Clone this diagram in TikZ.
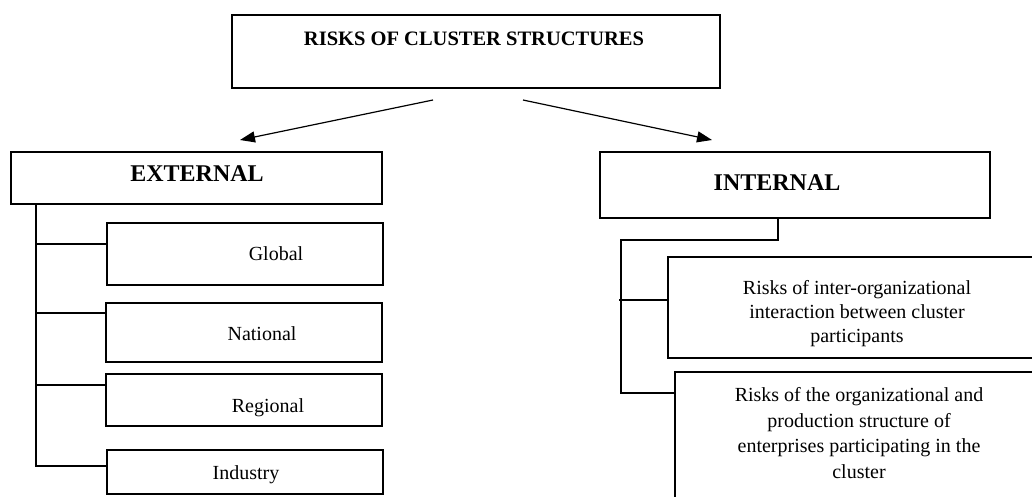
\documentclass[tikz,border=0pt]{standalone}
\usepackage{fontspec}
\setmainfont{Liberation Serif}
\usetikzlibrary{arrows.meta}
\tikzset{
  box/.style={draw, line width=1.1pt, inner sep=0pt, outer sep=0pt, anchor=north west},
  conn/.style={line width=1.1pt},
  arr/.style={line width=1.2pt, -{Triangle[length=15pt,width=11pt]}},
  head/.style={anchor=base, inner sep=0pt, font=\bfseries\fontsize{24}{28}\selectfont},
  ttl/.style={anchor=base, inner sep=0pt, font=\bfseries\fontsize{20.5}{24}\selectfont},
  lbl/.style={anchor=base, inner sep=0pt, font=\fontsize{20}{24}\selectfont},
}
\begin{document}
\begin{tikzpicture}[x=1pt,y=-1pt]
\useasboundingbox (0,0) rectangle (1032,496);
\clip (0,0) rectangle (1032,496);
\fill[white] (0,0) rectangle (1032,496);

% boxes
\node[box, minimum width=488pt, minimum height=73pt] (top) at (232,15) {};
\node[box, minimum width=371pt, minimum height=52pt] (ext) at (11,152) {};
\node[box, minimum width=276pt, minimum height=62pt] (glob) at (107,223) {};
\node[box, minimum width=276pt, minimum height=59pt] (nat) at (106,303) {};
\node[box, minimum width=276pt, minimum height=52pt] (reg) at (106,374) {};
\node[box, minimum width=276pt, minimum height=44pt] (ind) at (107,450) {};
\node[box, minimum width=390pt, minimum height=66pt] (int) at (600,152) {};
\node[box, minimum width=380pt, minimum height=101pt] (b1) at (668,257) {};
\node[box, minimum width=380pt, minimum height=140pt] (b2) at (675,372) {};

% texts
\node[ttl] (ttop) at (474,45) {RISKS OF CLUSTER STRUCTURES};
\node[head] (text) at (197,181.7) {EXTERNAL};
\node[head] (tint) at (777,190) {INTERNAL};
\node[lbl] (tglob) at (276,260) {Global};
\node[lbl] (tnat) at (262,340.7) {National};
\node[lbl] (treg) at (268,412) {Regional};
\node[lbl] (tind) at (246,479) {Industry};
\node[lbl, align=center, font=\fontsize{20}{24}\selectfont] (tb1) at (857,342)
  {Risks of inter-organizational\\interaction between cluster\\participants};
\node[lbl, align=center, font=\fontsize{20}{25.5}\selectfont] (tb2) at (859,478)
  {Risks of the organizational and\\production structure of\\enterprises participating in the\\cluster};

% arrows
\coordinate (a1s) at (433,100);
\coordinate (a1e) at (240,140);
\coordinate (a2s) at (523,100);
\coordinate (a2e) at (712,140);
\draw[arr] (a1s) -- (a1e);
\draw[arr] (a2s) -- (a2e);

% external tree
\coordinate (e0) at (36,204);
\coordinate (e1) at (36,244);
\coordinate (e2) at (36,313);
\coordinate (e3) at (36,385);
\coordinate (e4) at (36,466);
\draw[conn] (e0) -- (e4) -- (e4 -| ind.west);
\draw[conn] (e1) -- (e1 -| glob.west);
\draw[conn] (e2) -- (e2 -| nat.west);
\draw[conn] (e3) -- (e3 -| reg.west);

% internal tree
\coordinate (i0) at (778,218);
\coordinate (i1) at (778,240);
\coordinate (r0) at (621,240);
\coordinate (r1) at (619,300);
\coordinate (r2) at (621,393);
\draw[conn] (i0) -- (i1) -- (r0) -- (r2) -- (r2 -| b2.west);
\draw[conn] (r1) -- (r1 -| b1.west);
\end{tikzpicture}
\end{document}
